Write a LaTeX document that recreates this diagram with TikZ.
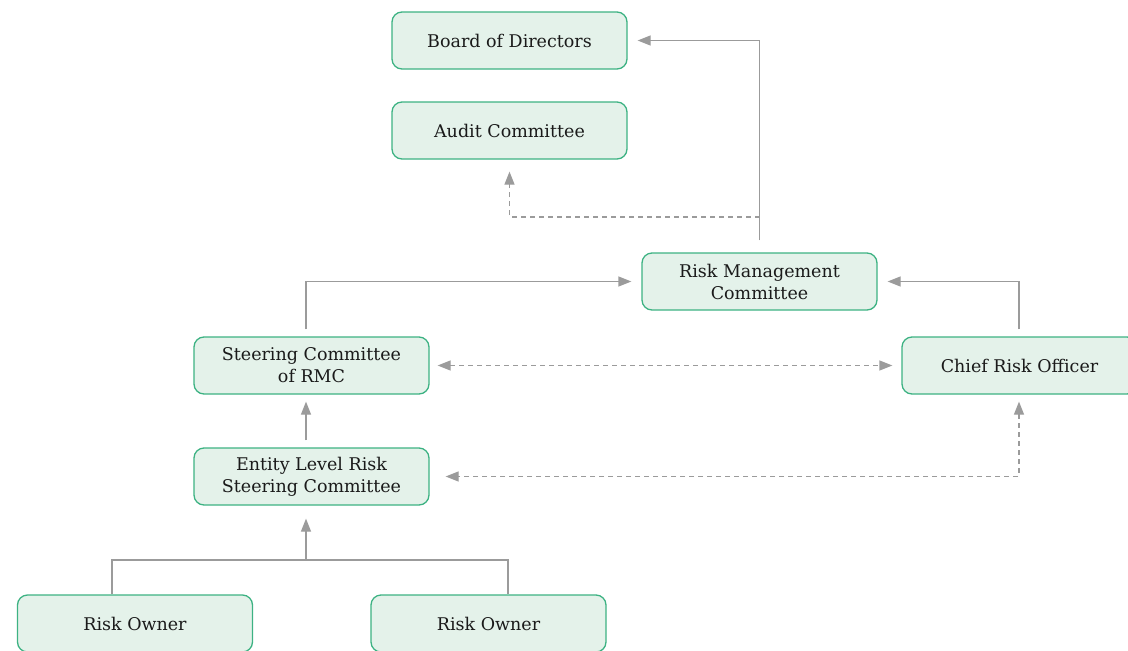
\documentclass[tikz,border=0pt]{standalone}
\usepackage{fontspec}
\setmainfont{DejaVu Serif}
\usetikzlibrary{arrows.meta}

\definecolor{boxfill}{HTML}{E4F2EA}
\definecolor{boxline}{HTML}{3DB283}
\definecolor{linegray}{HTML}{9B9B9B}
\definecolor{textdark}{HTML}{1A1A1A}

\begin{document}
\begin{tikzpicture}[x=1pt, y=-1pt,
    box/.style={draw=boxline, fill=boxfill, rounded corners=10pt, line width=1.3pt,
      minimum width=235pt, minimum height=57pt, align=center, text=textdark,
      font=\fontsize{17.5}{22}\selectfont},
    plain/.style={draw=linegray, line width=1.3pt},
    link/.style={plain, -{Triangle[length=13pt,width=10pt]}},
    duallink/.style={plain, {Triangle[length=13pt,width=10pt]}-{Triangle[length=13pt,width=10pt]}},
    dotted link/.style={dash pattern=on 5pt off 4pt}
  ]
    \useasboundingbox (0,0) rectangle (1128,651);
    \clip (0,0) rectangle (1128,651);

    % boxes
    \node[box] (board)  at (509.5,40.5)  {Board of Directors};
    \node[box] (audit)  at (509.5,130.5) {Audit Committee};
    \node[box] (rmc)    at (759.5,281.5) {Risk Management\\Committee};
    \node[box] (steer)  at (311.5,365.5) {Steering Committee\\of RMC};
    \node[box] (cro)    at (1019.5,365.5) {Chief Risk Officer};
    \node[box] (entity) at (311.5,476.5) {Entity Level Risk\\Steering Committee};
    \node[box] (ownA)   at (135,623.5)   {Risk Owner};
    \node[box] (ownB)   at (488.5,623.5) {Risk Owner};

    % branch points
    \coordinate (split) at (759.5,217);
    \coordinate (join)  at (306,560);

    % reporting lines
    \draw[link] ([yshift=12pt]rmc.north) |- ([xshift=10pt]board.east);
    \draw[link, dotted link] (split) -| ([yshift=-12pt]audit.south);
    \draw[link] ([xshift=-5.5pt,yshift=7pt]steer.north) |- ([xshift=-10pt]rmc.west);
    \draw[link] ([xshift=-0.5pt,yshift=7pt]cro.north) |- ([xshift=10pt]rmc.east);
    \draw[duallink, dotted link] ([xshift=8pt]steer.east) -- ([xshift=-9pt]cro.west);
    \draw[link] ([xshift=-5.5pt,yshift=7pt]entity.north) -- ([xshift=-5.5pt,yshift=-7pt]steer.south);
    \draw[duallink, dotted link] ([xshift=-0.5pt,yshift=-7pt]cro.south) |- ([xshift=16pt]entity.east);

    % risk owners
    \draw[plain] ([xshift=-23pt]ownA.north) |- (join) -| ([xshift=19.5pt]ownB.north);
    \draw[link] (join) -- ([xshift=-5.5pt,yshift=-13pt]entity.south);
  \end{tikzpicture}
\end{document}
